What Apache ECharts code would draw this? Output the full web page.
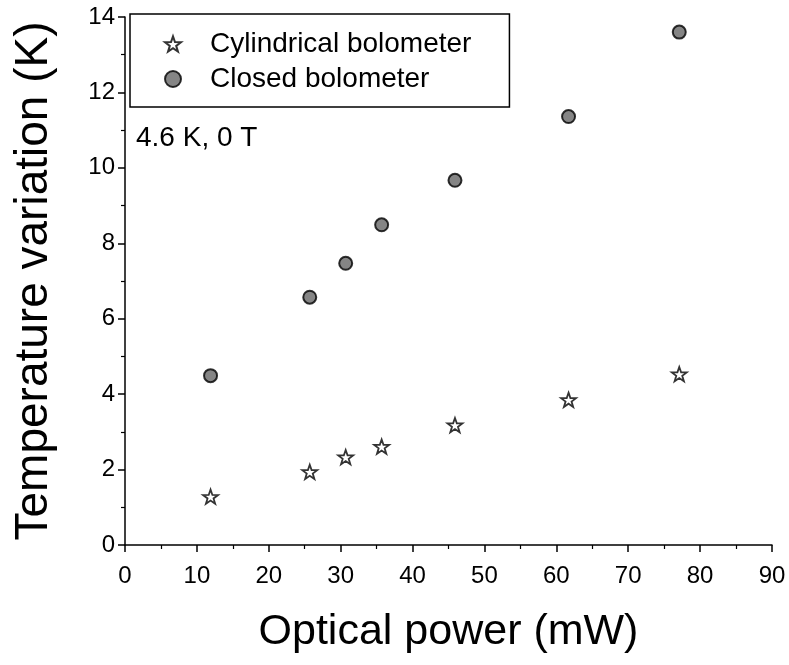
<!DOCTYPE html>
<html>
<head>
<meta charset="utf-8">
<script src="https://cdn.jsdelivr.net/npm/echarts@6/dist/echarts.min.js"></script>
<style>
  html, body { margin: 0; padding: 0; background: #fff; }
  #chart { width: 789px; height: 665px; }
</style>
</head>
<body>
<div id="chart"></div>
<script>
// Optical power (mW) applied to each bolometer
const opticalPower = [11.9, 25.7, 30.7, 35.7, 45.9, 61.7, 77.1];
// Temperature rise (K) measured for each bolometer
const cylindricalRise = [1.28, 1.94, 2.33, 2.61, 3.18, 3.85, 4.53];
const closedRise = [4.49, 6.57, 7.47, 8.49, 9.67, 11.36, 13.6];

const seriesNames = ['Cylindrical bolometer', 'Closed bolometer'];
const conditionLabel = '4.6 K, 0 T';
const xTitle = 'Optical power (mW)';
const yTitle = 'Temperature variation (K)';

const FONT = '"Liberation Sans", Arial, Helvetica, sans-serif';
const STAR = 'path://M0,-10 L2.35,-3.24 L9.51,-3.09 L3.8,1.24 L5.88,8.09 L0,4 L-5.88,8.09 L-3.8,1.24 L-9.51,-3.09 L-2.35,-3.24 Z';

const pairs = (xs, ys) => xs.map((x, i) => [x, ys[i]]);

const axisCommon = {
  axisLine: { show: true, onZero: false, lineStyle: { color: '#000', width: 1.5 } },
  axisTick: { show: true, inside: false, length: 7, lineStyle: { color: '#000', width: 1.5 } },
  minorTick: { show: true, splitNumber: 2, length: 4, lineStyle: { color: '#000', width: 1.2 } },
  splitLine: { show: false },
  minorSplitLine: { show: false },
  nameLocation: 'middle',
  nameTextStyle: { color: '#000', fontFamily: FONT }
};

const chart = echarts.init(document.getElementById('chart'), null, { renderer: 'canvas' });
chart.setOption({
  backgroundColor: '#fff',
  animation: false,
  title: {
    text: conditionLabel,
    left: 136,
    top: 124,
    textStyle: { fontFamily: FONT, fontSize: 28, fontWeight: 'normal', color: '#000' },
    padding: 0
  },
  legend: {
    orient: 'vertical',
    left: 130,
    top: 14,
    padding: [16, 38, 14, 34],
    itemGap: 7,
    itemWidth: 16,
    itemHeight: 16,
    borderColor: '#000',
    borderWidth: 1.5,
    data: seriesNames,
    textStyle: {
      fontFamily: FONT, fontSize: 28, color: '#000',
      lineHeight: 28, padding: [0, 0, 0, 24]
    }
  },
  grid: { left: 125, right: 17, top: 17, bottom: 120, containLabel: false },
  xAxis: Object.assign({}, axisCommon, {
    type: 'value',
    min: 0, max: 90, interval: 10,
    name: xTitle,
    nameGap: 66,
    nameTextStyle: { color: '#000', fontFamily: FONT, fontSize: 43 },
    axisLabel: { color: '#000', fontFamily: FONT, fontSize: 24, margin: 19 }
  }),
  yAxis: Object.assign({}, axisCommon, {
    type: 'value',
    min: 0, max: 14, interval: 2,
    name: yTitle,
    nameGap: 68,
    nameRotate: 90,
    nameTextStyle: { color: '#000', fontFamily: FONT, fontSize: 46 },
    axisLabel: { color: '#000', fontFamily: FONT, fontSize: 24, margin: 10 }
  }),
  series: [
    {
      name: seriesNames[0],
      type: 'scatter',
      symbol: STAR,
      symbolKeepAspect: true,
      symbolSize: 15,
      itemStyle: { color: '#fff', borderColor: '#000', borderWidth: 1.8 },
      data: pairs(opticalPower, cylindricalRise)
    },
    {
      name: seriesNames[1],
      type: 'scatter',
      symbol: 'circle',
      symbolSize: 13,
      itemStyle: { color: '#666', borderColor: '#000', borderWidth: 2 },
      data: pairs(opticalPower, closedRise)
    }
  ]
});
</script>
</body>
</html>
